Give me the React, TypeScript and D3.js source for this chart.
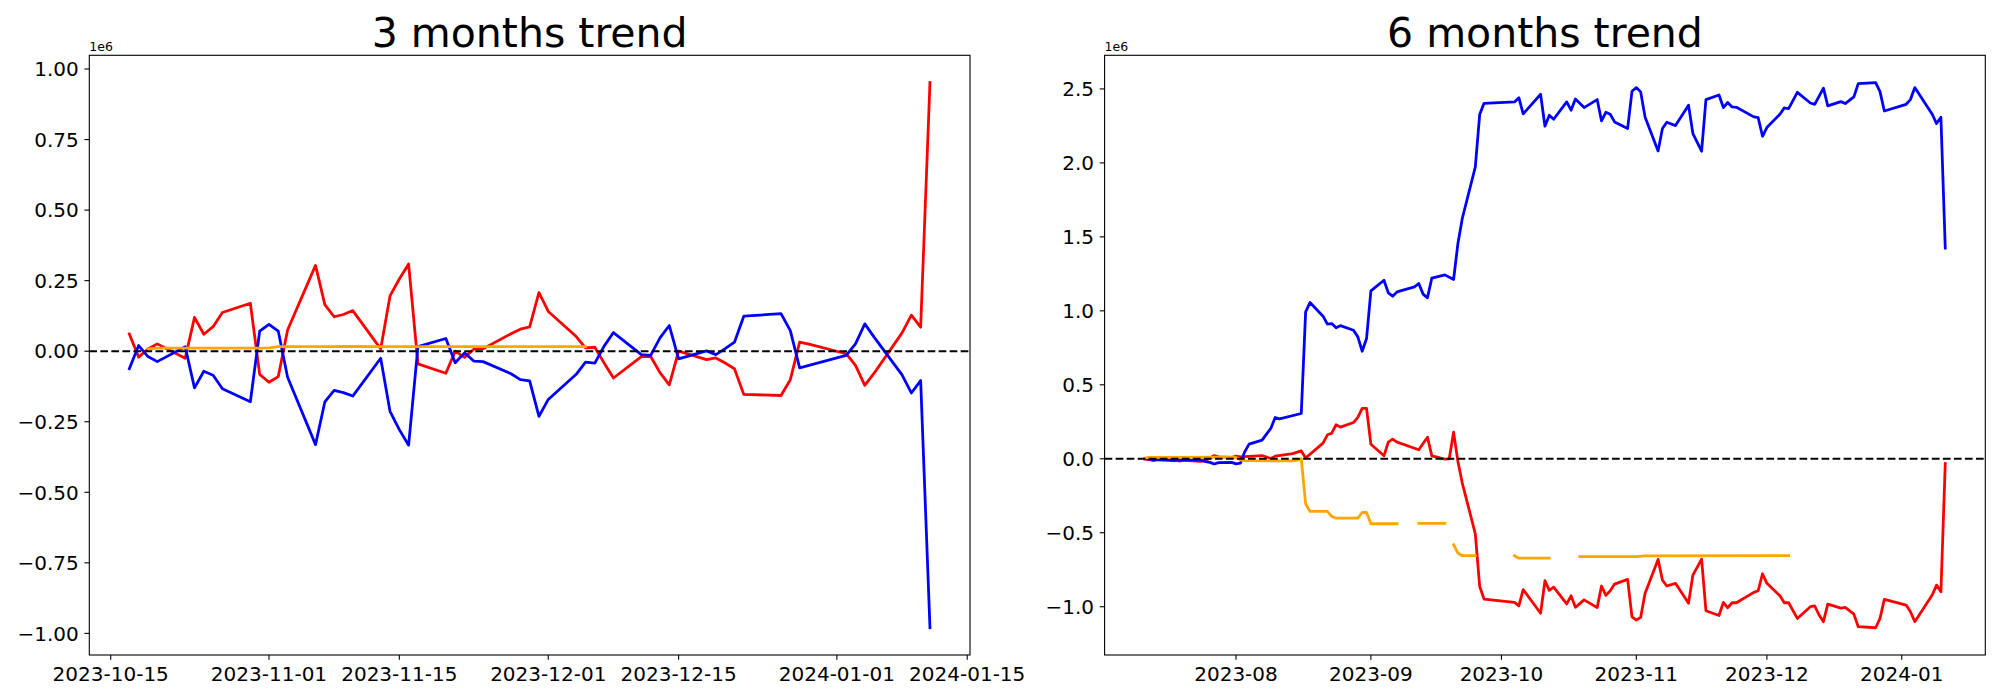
import React from "react";
import * as d3 from "d3";

// ---------------- 3 months trend (values in 1e6) ----------------
const threeMonthDates = [
  "2023-10-17","2023-10-18","2023-10-19","2023-10-20","2023-10-23","2023-10-24","2023-10-25","2023-10-26","2023-10-27",
  "2023-10-30","2023-10-31","2023-11-01","2023-11-02","2023-11-03","2023-11-06","2023-11-07","2023-11-08","2023-11-09",
  "2023-11-10","2023-11-13","2023-11-14","2023-11-15","2023-11-16","2023-11-17","2023-11-20","2023-11-21","2023-11-22",
  "2023-11-23","2023-11-24","2023-11-27","2023-11-28","2023-11-29","2023-11-30","2023-12-01","2023-12-04","2023-12-05",
  "2023-12-06","2023-12-07","2023-12-08","2023-12-11","2023-12-12","2023-12-13","2023-12-14","2023-12-15","2023-12-18",
  "2023-12-19","2023-12-20","2023-12-21","2023-12-22","2023-12-26","2023-12-27","2023-12-28","2023-12-29","2024-01-02",
  "2024-01-03","2024-01-04","2024-01-05","2024-01-08","2024-01-09","2024-01-10","2024-01-11"
];
const threeMonthRed = [
  0.061,-0.021,0.008,0.026,-0.025,0.120,0.060,0.087,0.137,
  0.170,-0.082,-0.110,-0.090,0.075,0.304,0.165,0.122,0.130,
  0.144,0.008,0.196,0.256,0.309,-0.045,-0.078,0.000,-0.022,
  0.007,0.009,0.062,0.078,0.086,0.208,0.141,0.052,0.012,
  0.014,-0.042,-0.095,-0.019,-0.019,-0.076,-0.119,0.000,-0.030,
  -0.024,-0.042,-0.062,-0.153,-0.157,-0.101,0.032,0.025,-0.009,
  -0.050,-0.121,-0.078,0.065,0.128,0.085,0.952
];
const threeMonthBlue = [
  -0.062,0.020,-0.019,-0.037,0.016,-0.130,-0.071,-0.085,-0.133,
  -0.179,0.071,0.095,0.071,-0.092,-0.331,-0.180,-0.139,-0.147,
  -0.159,-0.025,-0.213,-0.278,-0.333,0.016,0.045,-0.041,-0.006,
  -0.035,-0.037,-0.080,-0.101,-0.105,-0.231,-0.171,-0.082,-0.039,
  -0.042,0.018,0.066,-0.012,-0.015,0.047,0.091,-0.027,0.001,
  -0.012,0.009,0.032,0.124,0.133,0.073,-0.059,-0.050,-0.015,
  0.026,0.097,0.050,-0.084,-0.148,-0.104,-0.980
];
const threeMonthOrangeDates = [
  "2023-10-19","2023-10-20","2023-10-31","2023-11-01","2023-11-02","2023-11-08","2023-11-09","2023-11-13","2023-12-05"
];
const threeMonthOrange = [0.008,0.011,0.011,0.012,0.016,0.016,0.017,0.016,0.016];
const threeMonthXTicks = ["2023-10-15","2023-11-01","2023-11-15","2023-12-01","2023-12-15","2024-01-01","2024-01-15"];
const threeMonthYTicks = [-1, -0.75, -0.5, -0.25, 0, 0.25, 0.5, 0.75, 1];

// ---------------- 6 months trend (values in 1e6) ----------------
const sixMonthBlueDates = [
  "2023-07-11","2023-07-12","2023-07-13","2023-07-14","2023-07-17","2023-07-18","2023-07-19","2023-07-20","2023-07-21",
  "2023-07-24","2023-07-25","2023-07-26","2023-07-27","2023-07-28","2023-07-31","2023-08-01","2023-08-02","2023-08-03",
  "2023-08-04","2023-08-07","2023-08-08","2023-08-09","2023-08-10","2023-08-11","2023-08-16","2023-08-17","2023-08-18",
  "2023-08-21","2023-08-22","2023-08-23","2023-08-24","2023-08-25","2023-08-28","2023-08-29","2023-08-30","2023-08-31",
  "2023-09-01","2023-09-04","2023-09-05","2023-09-06","2023-09-07","2023-09-11","2023-09-12","2023-09-13","2023-09-14",
  "2023-09-15","2023-09-18","2023-09-20","2023-09-21","2023-09-22","2023-09-25","2023-09-26","2023-09-27","2023-10-04",
  "2023-10-05","2023-10-06","2023-10-10","2023-10-11","2023-10-12","2023-10-13","2023-10-16","2023-10-17","2023-10-18",
  "2023-10-20","2023-10-23","2023-10-24","2023-10-25","2023-10-26","2023-10-27","2023-10-30","2023-10-31","2023-11-01",
  "2023-11-02","2023-11-03","2023-11-06","2023-11-07","2023-11-08","2023-11-10","2023-11-13","2023-11-14","2023-11-16",
  "2023-11-17","2023-11-20","2023-11-21","2023-11-22","2023-11-23","2023-11-24","2023-11-28","2023-11-29","2023-11-30",
  "2023-12-01","2023-12-04","2023-12-05","2023-12-06","2023-12-08","2023-12-11","2023-12-12","2023-12-14","2023-12-15",
  "2023-12-18","2023-12-19","2023-12-21","2023-12-22","2023-12-26","2023-12-27","2023-12-28","2024-01-02","2024-01-03",
  "2024-01-04","2024-01-08","2024-01-09","2024-01-10","2024-01-11"
];
const sixMonthBlue = [
  0.000,-0.003,-0.006,-0.008,-0.010,-0.012,-0.008,-0.007,-0.008,
  -0.009,-0.020,-0.024,-0.035,-0.026,-0.024,-0.034,-0.030,0.047,
  0.099,0.126,0.167,0.205,0.279,0.270,0.306,0.993,1.056,
  0.964,0.910,0.914,0.885,0.900,0.869,0.824,0.727,0.813,
  1.135,1.207,1.122,1.099,1.128,1.162,1.185,1.113,1.088,
  1.221,1.243,1.212,1.455,1.624,1.973,2.327,2.403,2.412,
  2.441,2.331,2.464,2.248,2.322,2.295,2.412,2.356,2.432,
  2.374,2.428,2.284,2.342,2.329,2.277,2.232,2.484,2.509,
  2.480,2.311,2.081,2.232,2.275,2.252,2.390,2.198,2.079,
  2.428,2.459,2.374,2.408,2.378,2.376,2.311,2.306,2.180,
  2.239,2.329,2.372,2.367,2.477,2.405,2.396,2.505,2.385,
  2.414,2.401,2.446,2.536,2.543,2.482,2.351,2.396,2.428,
  2.509,2.329,2.266,2.309,1.424
];
const sixMonthRedDates = [
  "2023-07-11","2023-07-12","2023-07-13","2023-07-14","2023-07-17","2023-07-18","2023-07-19","2023-07-20","2023-07-21",
  "2023-07-24","2023-07-25","2023-07-26","2023-07-27","2023-07-28","2023-07-31","2023-08-01","2023-08-02","2023-08-04",
  "2023-08-07","2023-08-08","2023-08-09","2023-08-10","2023-08-14","2023-08-16","2023-08-17","2023-08-21","2023-08-22",
  "2023-08-23","2023-08-24","2023-08-25","2023-08-28","2023-08-29","2023-08-30","2023-08-31","2023-09-01","2023-09-04",
  "2023-09-05","2023-09-06","2023-09-07","2023-09-12","2023-09-14","2023-09-15","2023-09-18","2023-09-19","2023-09-20",
  "2023-09-21","2023-09-22","2023-09-25","2023-09-26","2023-09-27","2023-10-04","2023-10-05","2023-10-06","2023-10-10",
  "2023-10-11","2023-10-12","2023-10-13","2023-10-16","2023-10-17","2023-10-18","2023-10-20","2023-10-23","2023-10-24",
  "2023-10-25","2023-10-26","2023-10-27","2023-10-30","2023-10-31","2023-11-01","2023-11-02","2023-11-03","2023-11-06",
  "2023-11-07","2023-11-08","2023-11-10","2023-11-13","2023-11-14","2023-11-16","2023-11-17","2023-11-20","2023-11-21",
  "2023-11-22","2023-11-23","2023-11-24","2023-11-28","2023-11-29","2023-11-30","2023-12-01","2023-12-04","2023-12-05",
  "2023-12-06","2023-12-08","2023-12-11","2023-12-12","2023-12-13","2023-12-14","2023-12-15","2023-12-18","2023-12-19",
  "2023-12-21","2023-12-22","2023-12-26","2023-12-27","2023-12-28","2024-01-02","2024-01-03","2024-01-04","2024-01-08",
  "2024-01-09","2024-01-10","2024-01-11"
];
const sixMonthRed = [
  -0.002,-0.005,-0.013,-0.004,-0.007,-0.004,-0.016,-0.010,-0.012,
  -0.018,-0.010,0.005,0.022,0.013,0.009,0.018,0.013,0.016,
  0.022,0.012,0.002,0.018,0.035,0.053,0.005,0.106,0.162,
  0.173,0.230,0.214,0.245,0.280,0.341,0.341,0.098,0.020,
  0.113,0.133,0.113,0.061,0.146,0.020,-0.002,0.000,0.180,
  -0.018,-0.164,-0.507,-0.863,-0.948,-0.971,-0.994,-0.884,-1.044,
  -0.824,-0.889,-0.868,-0.981,-0.926,-1.004,-0.954,-1.006,-0.860,
  -0.923,-0.892,-0.847,-0.815,-1.068,-1.090,-1.072,-0.910,-0.680,
  -0.820,-0.860,-0.842,-0.977,-0.786,-0.678,-1.027,-1.059,-0.971,
  -1.007,-0.973,-0.973,-0.903,-0.892,-0.777,-0.842,-0.926,-0.973,
  -0.973,-1.079,-1.000,-0.995,-1.056,-1.101,-0.982,-1.009,-1.005,
  -1.050,-1.135,-1.142,-1.079,-0.950,-0.989,-1.034,-1.101,-0.921,
  -0.854,-0.899,-0.032
];
const sixMonthOrangeDates = [
  "2023-07-11","2023-07-12","2023-07-31","2023-08-01","2023-08-02","2023-08-03","2023-08-14","2023-08-15","2023-08-16",
  "2023-08-17","2023-08-18","2023-08-22","2023-08-23","2023-08-24","2023-08-29","2023-08-30","2023-08-31","2023-09-01",
  "2023-09-07","2023-09-08","2023-09-12","2023-09-18","2023-09-19","2023-09-20","2023-09-21","2023-09-22","2023-09-25",
  "2023-09-26","2023-10-04","2023-10-05","2023-10-12","2023-10-13","2023-10-19","2023-11-01","2023-11-03","2023-12-06"
];
const sixMonthOrange: (number | null)[] = [
  0.005,0.010,0.011,0.008,-0.007,-0.013,-0.014,-0.010,0.000,
  -0.304,-0.356,-0.356,-0.390,-0.401,-0.401,-0.363,-0.363,-0.439,
  -0.439,null,-0.437,-0.437,null,-0.581,-0.637,-0.655,-0.655,
  null,-0.655,-0.672,-0.672,null,-0.662,-0.662,-0.656,-0.655
];
const sixMonthXTicks = ["2023-08-01","2023-09-01","2023-10-01","2023-11-01","2023-12-01","2024-01-01"];
const sixMonthYTicks = [-1, -0.5, 0, 0.5, 1, 1.5, 2, 2.5];

// ---------------- layout ----------------
const W = 2000;
const H = 700;
const TOP = 55.3;
const BOTTOM = 655;
const FONT = "DejaVu Sans, Liberation Sans, sans-serif";

const parse = d3.utcParse("%Y-%m-%d");

type Series = { dates: string[]; values: (number | null)[]; color: string };

function Panel(props: {
  id: string;
  title: string;
  x0: number;
  x1: number;
  series: Series[];
  xTicks: string[];
  xFmt: string;
  yTicks: number[];
  yFmt: string;
}) {
  const { id, title, x0, x1, series, xTicks, xFmt, yTicks, yFmt } = props;
  const allDates: Date[] = [];
  const allVals: number[] = [];
  series.forEach((s) => {
    s.dates.forEach((d, i) => {
      allDates.push(parse(d) as Date);
      if (s.values[i] != null) allVals.push(s.values[i] as number);
    });
  });
  const [dMin, dMax] = d3.extent(allDates) as [Date, Date];
  const span = +dMax - +dMin;
  const x = d3
    .scaleUtc()
    .domain([new Date(+dMin - span * 0.05), new Date(+dMax + span * 0.05)])
    .range([x0, x1]);
  const [vMin, vMax] = d3.extent(allVals) as [number, number];
  const vPad = (vMax - vMin) * 0.05;
  const y = d3.scaleLinear().domain([vMin - vPad, vMax + vPad]).range([BOTTOM, TOP]);

  const line = d3
    .line<[Date, number | null]>()
    .defined((d) => d[1] != null)
    .x((d) => x(d[0]))
    .y((d) => y(d[1] as number));

  const xf = d3.utcFormat(xFmt);
  const yf = d3.format(yFmt);
  const tickLen = 4.86;

  return (
    <g>
      <defs>
        <clipPath id={id}>
          <rect x={x0} y={TOP} width={x1 - x0} height={BOTTOM - TOP} />
        </clipPath>
      </defs>
      <text
        x={(x0 + x1) / 2}
        y={46.5}
        textAnchor="middle"
        fontFamily={FONT}
        fontSize={41}
        fill="#000"
      >
        {title}
      </text>
      <g clipPath={`url(#${id})`}>
        {series.map((s, k) => {
          const pts: [Date, number | null][] = s.dates.map((d, i) => [parse(d) as Date, s.values[i]]);
          return (
            <path
              key={k}
              d={line(pts) || ""}
              fill="none"
              stroke={s.color}
              strokeWidth={2.78}
              strokeLinejoin="round"
              strokeLinecap="square"
            />
          );
        })}
        <line
          x1={x0}
          x2={x1}
          y1={y(0)}
          y2={y(0)}
          stroke="#000"
          strokeWidth={2.08}
          strokeDasharray="7.7 3.33"
        />
      </g>
      <rect x={x0} y={TOP} width={x1 - x0} height={BOTTOM - TOP} fill="none" stroke="#000" strokeWidth={1.1} />
      {yTicks.map((t) => (
        <g key={"y" + t}>
          <line x1={x0 - tickLen} x2={x0} y1={y(t)} y2={y(t)} stroke="#000" strokeWidth={1.1} />
          <text
            x={x0 - 10.5}
            y={y(t) + 7.3}
            textAnchor="end"
            fontFamily={FONT}
            fontSize={20}
            fill="#000"
          >
            {yf(t)}
          </text>
        </g>
      ))}
      {xTicks.map((t) => {
        const dt = parse(t) as Date;
        const px = x(dt);
        return (
          <g key={"x" + t}>
            <line x1={px} x2={px} y1={BOTTOM} y2={BOTTOM + tickLen} stroke="#000" strokeWidth={1.1} />
            <text x={px} y={680.5} textAnchor="middle" fontFamily={FONT} fontSize={20} fill="#000">
              {xf(dt)}
            </text>
          </g>
        );
      })}
      <text x={x0} y={51} fontFamily={FONT} fontSize={12.5} fill="#000">
        1e6
      </text>
    </g>
  );
}

export default function App() {
  return (
    <svg
      width={W}
      height={H}
      viewBox={`0 0 ${W} ${H}`}
      style={{ position: "absolute", left: 0, top: 0, background: "#fff" }}
    >
      <rect x={0} y={0} width={W} height={H} fill="#fff" />
      <Panel
        id="clip-left"
        title="3 months trend"
        x0={89.3}
        x1={970}
        series={[
          { dates: threeMonthDates, values: threeMonthRed, color: "#ff0000" },
          { dates: threeMonthDates, values: threeMonthBlue, color: "#0000ff" },
          { dates: threeMonthOrangeDates, values: threeMonthOrange, color: "#ffa500" },
        ]}
        xTicks={threeMonthXTicks}
        xFmt="%Y-%m-%d"
        yTicks={threeMonthYTicks}
        yFmt=".2f"
      />
      <Panel
        id="clip-right"
        title="6 months trend"
        x0={1104.6}
        x1={1985.3}
        series={[
          { dates: sixMonthRedDates, values: sixMonthRed, color: "#ff0000" },
          { dates: sixMonthBlueDates, values: sixMonthBlue, color: "#0000ff" },
          { dates: sixMonthOrangeDates, values: sixMonthOrange, color: "#ffa500" },
        ]}
        xTicks={sixMonthXTicks}
        xFmt="%Y-%m"
        yTicks={sixMonthYTicks}
        yFmt=".1f"
      />
    </svg>
  );
}
